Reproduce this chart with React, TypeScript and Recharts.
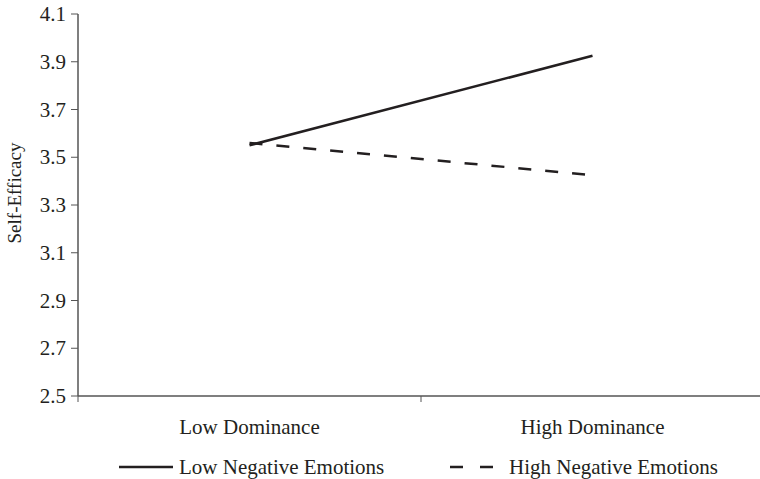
import { LineChart, Line, XAxis, YAxis, Legend } from 'recharts';

const categories = ['Low Dominance', 'High Dominance'];
const lowNegative = [3.55, 3.925];
const highNegative = [3.56, 3.425];
const yTicks = [2.5, 2.7, 2.9, 3.1, 3.3, 3.5, 3.7, 3.9, 4.1];

const data = categories.map((name, i) => ({
  x: i + 0.5,
  name,
  low: lowNegative[i],
  high: highNegative[i],
}));

const FONT = '"Liberation Serif", "Times New Roman", serif';
const INK = '#231f20';
const AXIS = '#555';

// ticks at band edges, labels at band centres
function XTick(props: any) {
  const { x, y, payload } = props;
  const v = payload.value;
  if (Number.isInteger(v)) {
    return <line x1={x} x2={x} y1={y - 8} y2={y - 2} stroke={AXIS} strokeWidth={1} />;
  }
  return (
    <text x={x} y={y} dy={30} textAnchor="middle" style={{ fontSize: 21, fontFamily: FONT }} fill={INK}>
      {categories[Math.floor(v)]}
    </text>
  );
}

function YTick(props: any) {
  const { x, y, payload } = props;
  return (
    <text x={x} y={y} dy={7} textAnchor="end" style={{ fontSize: 21, fontFamily: FONT }} fill={INK}>
      {Number(payload.value).toFixed(1)}
    </text>
  );
}

function YLabel() {
  const cx = 21;
  const cy = 193;
  return (
    <text x={cx} y={cy} transform={`rotate(-90 ${cx} ${cy})`} textAnchor="middle" style={{ fontSize: 19, fontFamily: FONT }} fill={INK}>
      Self-Efficacy
    </text>
  );
}

function LegendContent() {
  return (
    <div style={{ position: 'relative', height: 24, fontFamily: FONT, fontSize: 21, lineHeight: '24px', color: INK }}>
      <svg width={60} height={10} style={{ position: 'absolute', left: 119, top: 7 }}>
        <line x1={0} x2={54} y1={5} y2={5} stroke={INK} strokeWidth={2.5} />
      </svg>
      <span style={{ position: 'absolute', left: 179, top: 0, whiteSpace: 'nowrap' }}>Low Negative Emotions</span>
      <svg width={50} height={10} style={{ position: 'absolute', left: 450, top: 7 }}>
        <line x1={0} x2={43} y1={5} y2={5} stroke={INK} strokeWidth={2.5} strokeDasharray="13 17" />
      </svg>
      <span style={{ position: 'absolute', left: 509, top: 0, whiteSpace: 'nowrap' }}>High Negative Emotions</span>
    </div>
  );
}

export default function App() {
  return (
    <div style={{ position: 'absolute', top: 0, left: 0, width: 760, height: 479, overflow: 'hidden', background: '#fff', fontFamily: FONT }}>
      <LineChart width={764} height={479} data={data} margin={{ top: 14, right: 0, bottom: 0, left: 0 }}>
        <XAxis
          dataKey="x"
          type="number"
          domain={[0, 2]}
          ticks={[0, 0.5, 1, 1.5, 2]}
          tick={<XTick />}
          tickLine={false}
          axisLine={{ stroke: AXIS, strokeWidth: 1.5 }}
          height={59}
          interval={0}
        />
        <YAxis
          domain={[2.5, 4.1]}
          ticks={yTicks}
          width={78}
          tickSize={7}
          tickMargin={5}
          tick={<YTick />}
          tickLine={{ stroke: AXIS }}
          axisLine={{ stroke: AXIS, strokeWidth: 1.5 }}
          interval={0}
          label={<YLabel />}
        />
        <Legend
          content={<LegendContent />}
          wrapperStyle={{ position: 'absolute', top: 455, bottom: 'auto', left: 0, width: 760, height: 24, overflow: 'visible' }}
        />
        <Line dataKey="low" stroke={INK} strokeWidth={2.5} dot={false} isAnimationActive={false} />
        <Line dataKey="high" stroke={INK} strokeWidth={2.5} strokeDasharray="13 14" dot={false} isAnimationActive={false} />
      </LineChart>
    </div>
  );
}
